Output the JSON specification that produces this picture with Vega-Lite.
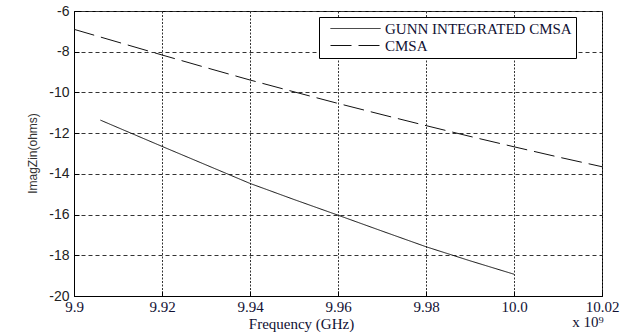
{
  "$schema": "https://vega.github.io/schema/vega-lite/v6.json",
  "width": 528,
  "height": 285,
  "autosize": {"type": "none"},
  "padding": {"left": 74, "top": 11, "right": 25, "bottom": 36},
  "background": "white",
  "config": {"view": {"stroke": "black", "strokeWidth": 1}},
  "layer": [
    {
      "data": {
        "values": [
          {"series": "GUNN INTEGRATED CMSA", "freq": 9.906, "imag": -11.36},
          {"series": "GUNN INTEGRATED CMSA", "freq": 9.91, "imag": -11.73},
          {"series": "GUNN INTEGRATED CMSA", "freq": 9.92, "imag": -12.65},
          {"series": "GUNN INTEGRATED CMSA", "freq": 9.93, "imag": -13.56},
          {"series": "GUNN INTEGRATED CMSA", "freq": 9.94, "imag": -14.47},
          {"series": "GUNN INTEGRATED CMSA", "freq": 9.95, "imag": -15.26},
          {"series": "GUNN INTEGRATED CMSA", "freq": 9.96, "imag": -16.03},
          {"series": "GUNN INTEGRATED CMSA", "freq": 9.97, "imag": -16.81},
          {"series": "GUNN INTEGRATED CMSA", "freq": 9.98, "imag": -17.58},
          {"series": "GUNN INTEGRATED CMSA", "freq": 9.99, "imag": -18.27},
          {"series": "GUNN INTEGRATED CMSA", "freq": 10.0, "imag": -18.93},
          {"series": "CMSA", "freq": 9.9, "imag": -6.9},
          {"series": "CMSA", "freq": 9.91, "imag": -7.53},
          {"series": "CMSA", "freq": 9.92, "imag": -8.16},
          {"series": "CMSA", "freq": 9.93, "imag": -8.78},
          {"series": "CMSA", "freq": 9.94, "imag": -9.39},
          {"series": "CMSA", "freq": 9.95, "imag": -9.97},
          {"series": "CMSA", "freq": 9.96, "imag": -10.54},
          {"series": "CMSA", "freq": 9.97, "imag": -11.09},
          {"series": "CMSA", "freq": 9.98, "imag": -11.63},
          {"series": "CMSA", "freq": 9.99, "imag": -12.16},
          {"series": "CMSA", "freq": 10.0, "imag": -12.67},
          {"series": "CMSA", "freq": 10.01, "imag": -13.17},
          {"series": "CMSA", "freq": 10.02, "imag": -13.65}
        ]
      },
      "mark": {"type": "line", "strokeWidth": 1, "color": "#111"},
      "encoding": {
        "x": {
          "field": "freq",
          "type": "quantitative",
          "scale": {"domain": [9.9, 10.02], "nice": false, "zero": false},
          "axis": {
            "title": "Frequency (GHz)",
            "values": [9.9, 9.92, 9.94, 9.96, 9.98, 10, 10.02],
            "labelExpr": "abs(datum.value-10)<1e-6 ? '10.0' : format(datum.value, '.2~f')",
            "labelFont": "Liberation Serif",
            "labelFontSize": 15,
            "labelColor": "#111133",
            "labelFlush": false,
            "labelOverlap": false,
            "labelPadding": 8,
            "titleFont": "Liberation Serif",
            "titleFontSize": 15,
            "titleFontWeight": "normal",
            "titleColor": "#111133",
            "titleX": 227,
            "titleY": 27,
            "titleBaseline": "middle",
            "grid": true,
            "gridDash": [2, 1.5],
            "gridColor": "#333",
            "domainColor": "black",
            "tickColor": "black",
            "tickSize": -5
          }
        },
        "y": {
          "field": "imag",
          "type": "quantitative",
          "scale": {"domain": [-20, -6], "nice": false, "zero": false},
          "axis": {
            "title": "ImagZin(ohms)",
            "values": [-20, -18, -16, -14, -12, -10, -8, -6],
            "labelExpr": "toString(datum.value)",
            "labelFont": "Liberation Sans",
            "labelFontSize": 14,
            "labelColor": "#222",
            "labelPadding": 10,
            "titleFont": "Liberation Sans",
            "titleFontSize": 12,
            "titleFontWeight": "normal",
            "titleColor": "#333",
            "titleX": -42,
            "titleY": 142,
            "titleBaseline": "middle",
            "grid": true,
            "gridDash": [4, 3],
            "gridColor": "#333",
            "domainColor": "black",
            "tickColor": "black",
            "tickSize": -5
          }
        },
        "strokeDash": {
          "field": "series",
          "type": "nominal",
          "scale": {"domain": ["GUNN INTEGRATED CMSA", "CMSA"], "range": [[1, 0], [21, 7]]},
          "legend": {
            "title": null,
            "orient": "none",
            "legendX": 245,
            "legendY": 6,
            "strokeColor": "black",
            "fillColor": "white",
            "padding": 4,
            "symbolType": "M-5,0H5",
            "symbolSize": 100,
            "symbolStrokeWidth": 1,
            "symbolStrokeColor": "#111",
            "symbolOffset": 25,
            "labelOffset": 22,
            "labelFont": "Liberation Serif",
            "labelFontSize": 15,
            "labelColor": "#111133",
            "labelLimit": 400,
            "rowPadding": 1,
            "cornerRadius": 0
          }
        }
      }
    },
    {
      "data": {"values": [{"label": "x 10⁹", "fx": 10.02, "fy": -20}]},
      "mark": {"type": "text", "font": "Liberation Serif", "fontSize": 15, "dx": -14, "dy": 26, "align": "center", "baseline": "middle", "color": "#111133"},
      "encoding": {
        "x": {"field": "fx", "type": "quantitative"},
        "y": {"field": "fy", "type": "quantitative"},
        "text": {"field": "label", "type": "nominal"}
      }
    }
  ]
}
